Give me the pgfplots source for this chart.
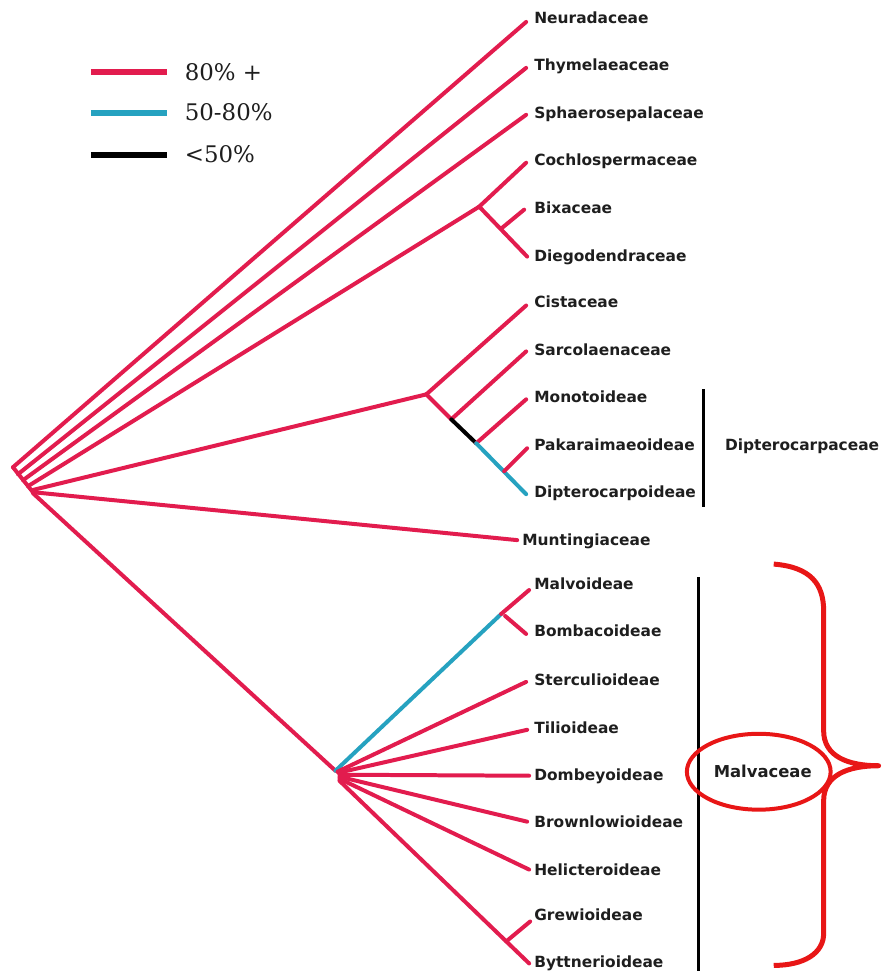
\documentclass[border=0pt]{standalone}
\usepackage{fontspec}
\setmainfont{DejaVu Sans}
\newfontfamily\legfont{DejaVu Serif}
\usepackage{pgfplots}
\pgfplotsset{compat=1.18}
\definecolor{bsred}{RGB}{226,28,78}
\definecolor{bscyan}{RGB}{38,162,192}
\definecolor{brred}{RGB}{232,22,22}
\definecolor{labtxt}{RGB}{30,30,30}
\tikzset{
  br/.style={bsred, line width=4bp, line cap=round},
  bc/.style={bscyan, line width=4bp, line cap=round},
  bk/.style={black, line width=4bp, line cap=round},
  lab/.style={anchor=base west, inner sep=0pt, text=labtxt, font=\fontsize{15.5}{17}\selectfont\bfseries},
  leg/.style={anchor=base west, inner sep=0pt, text=labtxt, font=\fontsize{23}{25}\selectfont\legfont},
}
\begin{document}
\begin{tikzpicture}
\begin{axis}[
  scale only axis, width=894bp, height=973bp,
  xmin=0, xmax=894, ymin=0, ymax=973, y dir=reverse,
  hide axis, clip=false,
]
% root stem and main branches
\addplot[br, no markers] coordinates {(13,468) (33,493)};
\addplot[br, no markers] coordinates {(13,468) (527,22)};
\addplot[br, no markers] coordinates {(18,475) (527,68)};
\addplot[br, no markers] coordinates {(23,481) (527,115)};
\addplot[br, no markers] coordinates {(28,487) (480,207)};
\addplot[br, no markers] coordinates {(32,491) (427,395)};
\addplot[br, no markers] coordinates {(33,493) (518,541)};
\addplot[br, no markers] coordinates {(33,494) (336,772)};
% Cochlospermaceae clade
\addplot[br, no markers] coordinates {(480,207) (527,163)};
\addplot[br, no markers] coordinates {(480,207) (528,257)};
\addplot[br, no markers] coordinates {(502,229) (525,210)};
% Cistaceae clade
\addplot[br, no markers] coordinates {(427,395) (527,306)};
\addplot[br, no markers] coordinates {(427,395) (452,420)};
\addplot[br, no markers] coordinates {(452,420) (527,352)};
\addplot[bk, no markers] coordinates {(452,420) (477,444)};
\addplot[br, no markers] coordinates {(477,444) (527,400)};
\addplot[bc, no markers] coordinates {(477,444) (527,495)};
\addplot[br, no markers] coordinates {(505,472) (528,449)};
% Malvaceae clade
\addplot[bc, no markers] coordinates {(336,772) (502,615)};
\addplot[br, no markers] coordinates {(502,615) (530,591)};
\addplot[br, no markers] coordinates {(506,617) (527,635)};
\addplot[br, no markers] coordinates {(338,773) (527,683)};
\addplot[br, no markers] coordinates {(339,774) (528,731)};
\addplot[br, no markers] coordinates {(340,776) (530,777)};
\addplot[br, no markers] coordinates {(340,778) (528,823)};
\addplot[br, no markers] coordinates {(340,780) (530,871)};
\addplot[br, no markers] coordinates {(340,782) (530,965)};
\addplot[br, no markers] coordinates {(507,943) (531,923)};
% group bars
\addplot[black, line width=3.2bp, no markers] coordinates {(705,390) (705,508)};
\addplot[black, line width=3.2bp, no markers] coordinates {(700,578) (700,973)};
% legend lines
\addplot[bsred, line width=6bp, no markers] coordinates {(91,72) (167,72)};
\addplot[bscyan, line width=6bp, no markers] coordinates {(91,113) (167,113)};
\addplot[black, line width=6bp, no markers] coordinates {(91,155) (167,155)};
\node[leg] at (axis cs:185,81) {80\% +};
\node[leg] at (axis cs:185,121) {50-80\%};
\node[leg] at (axis cs:185,163) {<50\%};
% labels
\node[lab] at (axis cs:535,23.5) {Neuradaceae};
\node[lab] at (axis cs:535,70.5) {Thymelaeaceae};
\node[lab] at (axis cs:535,118.5) {Sphaerosepalaceae};
\node[lab] at (axis cs:535,165.5) {Cochlospermaceae};
\node[lab] at (axis cs:535,214) {Bixaceae};
\node[lab] at (axis cs:535,261.5) {Diegodendraceae};
\node[lab] at (axis cs:535,308.5) {Cistaceae};
\node[lab] at (axis cs:535,356.5) {Sarcolaenaceae};
\node[lab] at (axis cs:535,403.5) {Monotoideae};
\node[lab] at (axis cs:535,451.5) {Pakaraimaeoideae};
\node[lab] at (axis cs:535,498.5) {Dipterocarpoideae};
\node[lab] at (axis cs:523,546.5) {Muntingiaceae};
\node[lab] at (axis cs:535,590.5) {Malvoideae};
\node[lab] at (axis cs:535,637.5) {Bombacoideae};
\node[lab] at (axis cs:535,686.5) {Sterculioideae};
\node[lab] at (axis cs:535,734.5) {Tilioideae};
\node[lab] at (axis cs:535,781.5) {Dombeyoideae};
\node[lab] at (axis cs:535,828.5) {Brownlowioideae};
\node[lab] at (axis cs:535,876.5) {Helicteroideae};
\node[lab] at (axis cs:535,922.5) {Grewioideae};
\node[lab] at (axis cs:535,969.5) {Byttnerioideae};
\node[lab] at (axis cs:726,451.5) {Dipterocarpaceae};
\node[lab, anchor=base, font=\fontsize{16.5}{18}\selectfont\bfseries] at (axis cs:764,779) {Malvaceae};
% ellipse and brace
\draw[brred, line width=4bp] (axis cs:760,773) ellipse [x radius=72bp, y radius=38bp];
\draw[brred, line width=5bp, line join=round]
  (axis cs:775,565) .. controls (axis cs:812,568) and (axis cs:825,585) .. (axis cs:825,612)
  -- (axis cs:825,732) .. controls (axis cs:825,758) and (axis cs:850,767) .. (axis cs:880,767)
  .. controls (axis cs:850,767) and (axis cs:825,776) .. (axis cs:825,802)
  -- (axis cs:825,935) .. controls (axis cs:825,955) and (axis cs:805,967) .. (axis cs:775,967);
\path (axis cs:0,0) rectangle (axis cs:894,973);
\end{axis}
\end{tikzpicture}
\end{document}
